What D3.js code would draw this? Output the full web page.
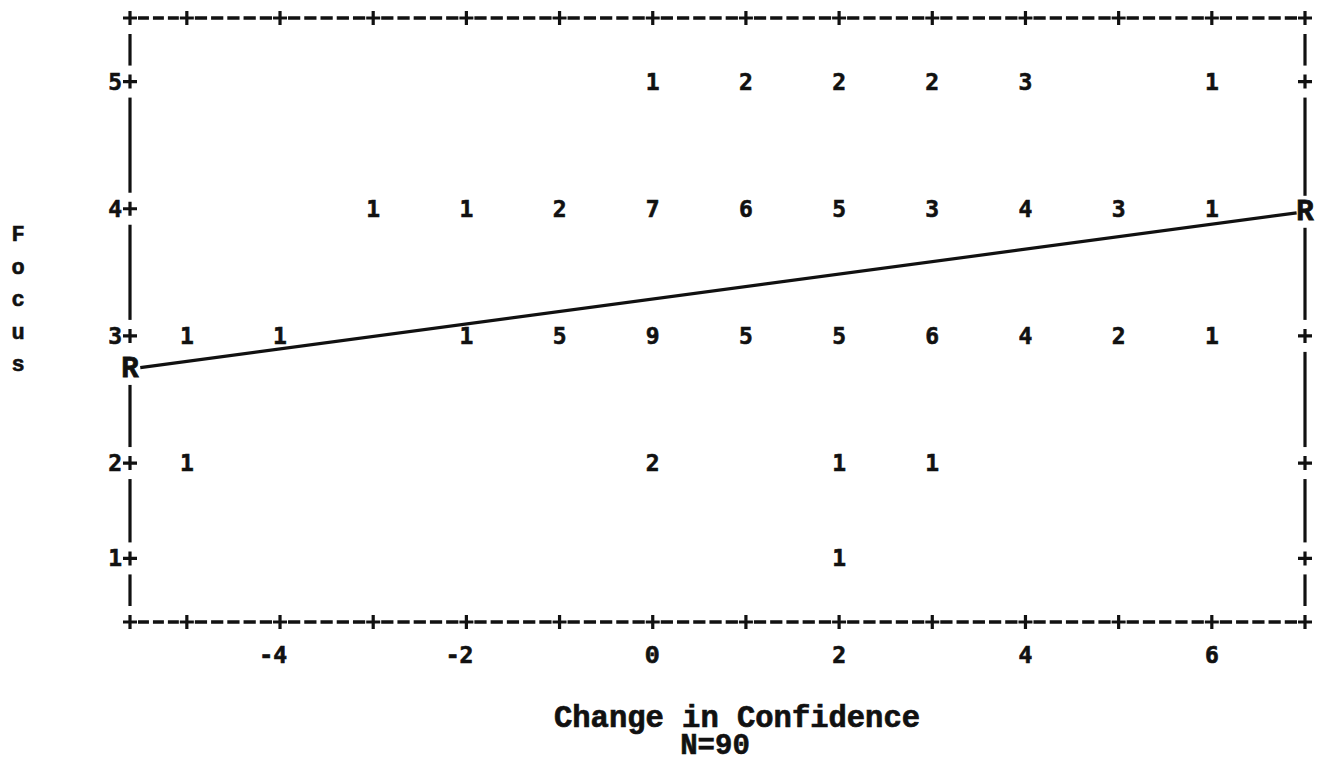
<!DOCTYPE html>
<html>
<head>
<meta charset="utf-8">
<script src="https://cdn.jsdelivr.net/npm/d3@7"></script>
<style>
  html, body { margin: 0; padding: 0; background: #fff; }
  svg { display: block; }
</style>
</head>
<body>
<svg id="chart" width="1324" height="763"></svg>
<script>
// Change in confidence (x) against focus rating (y); each cell shows how many cases fall there.
const changeValues = [-5, -4, -3, -2, -1, 0, 1, 2, 3, 4, 5, 6, 7];
const countsFocus5 = [0, 0, 0, 0, 0, 1, 2, 2, 2, 3, 0, 1, 0];
const countsFocus4 = [0, 0, 1, 1, 2, 7, 6, 5, 3, 4, 3, 1, 0];
const countsFocus3 = [1, 1, 0, 1, 5, 9, 5, 5, 6, 4, 2, 1, 0];
const countsFocus2 = [1, 0, 0, 0, 0, 2, 0, 1, 1, 0, 0, 0, 0];
const countsFocus1 = [0, 0, 0, 0, 0, 0, 0, 1, 0, 0, 0, 0, 0];
const focusLevels = [5, 4, 3, 2, 1];
const xTickLabels = [-4, -2, 0, 2, 4, 6];
const yTickLabels = [1, 2, 3, 4, 5];
// Least-squares fit line: focus = intercept + slope * change
const fitIntercept = 3.29;
const fitSlope = 0.098;
const sampleSize = 90;

(function () {
  const countsByFocus = { 5: countsFocus5, 4: countsFocus4, 3: countsFocus3, 2: countsFocus2, 1: countsFocus1 };

  const svg = d3.select("#chart");
  const ink = "#111";
  const monoSerif = "'Liberation Mono', 'Courier New', monospace";
  const monoSans = "'DejaVu Sans Mono', monospace";
  // DejaVu's zero is dotted; use a plain oval zero where one appears
  const digitFont = s => (String(s).indexOf("0") >= 0 ? monoSerif : monoSans);

  // Horizontal scale; the frame starts a little left of -5
  const xMin = -5.61, xMax = 7;
  const x = d3.scaleLinear().domain([xMin, xMax]).range([130, 1305]);

  // Printer-style line grid: the frame spans 20 text rows
  const row = d3.scaleLinear().domain([0, 19]).range([18, 622]);
  // Focus levels sit on fixed text rows (spacing is not perfectly uniform)
  const y = d3.scaleLinear().domain([1, 2, 3, 4, 5]).range([row(17), row(14), row(10), row(6), row(2)]);

  const frameTop = row(0), frameBottom = row(19), frameLeft = x(xMin), frameRight = x(xMax);

  const g = svg.append("g");

  // heavier printed look for glyphs
  function inked(sel, w) {
    return sel.attr("fill", ink).attr("stroke", ink).attr("stroke-width", w).attr("paint-order", "stroke");
  }

  // ---- dashed top and bottom borders with "+" ticks ----
  const hTickPos = [xMin].concat(d3.range(-5, 8));
  function dashedSpan(yy, a, b) {
    const x0 = x(a) + 8, x1 = x(b) - 8;
    const L = x1 - x0;
    const gap = 4;
    const n = Math.max(1, Math.round((L + gap) / 16));
    const dash = (L - gap * (n - 1)) / n;
    g.append("line")
      .attr("x1", x0).attr("x2", x1).attr("y1", yy).attr("y2", yy)
      .attr("stroke", ink).attr("stroke-width", 3.5)
      .attr("stroke-dasharray", `${dash},${gap}`);
  }
  [frameTop, frameBottom].forEach(yy => {
    for (let i = 0; i < hTickPos.length - 1; i++) dashedSpan(yy, hTickPos[i], hTickPos[i + 1]);
  });

  function cross(cx, cy) {
    g.append("path")
      .attr("d", `M${cx - 7},${cy}H${cx + 7}M${cx},${cy - 7}V${cy + 7}`)
      .attr("stroke", ink).attr("stroke-width", 3.2).attr("fill", "none");
  }
  [frameTop, frameBottom].forEach(yy => hTickPos.forEach(v => cross(x(v), yy)));

  // ---- vertical borders: solid runs broken around each glyph row ----
  const fitLeft = fitIntercept + fitSlope * xMin;
  const fitRight = fitIntercept + fitSlope * xMax;

  function verticalRuns(xx, glyphYs) {
    const ys = glyphYs.slice().sort((a, b) => a - b);
    for (let i = 0; i < ys.length - 1; i++) {
      const y0 = ys[i] + 16, y1 = ys[i + 1] - 16;
      if (y1 - y0 > 2) {
        g.append("line").attr("x1", xx).attr("x2", xx).attr("y1", y0).attr("y2", y1)
          .attr("stroke", ink).attr("stroke-width", 3.2);
      }
    }
  }
  const leftGlyphs = [frameTop, frameBottom].concat(yTickLabels.map(v => y(v)), [y(fitLeft)]);
  const rightGlyphs = [frameTop, frameBottom].concat(yTickLabels.filter(v => v !== 4).map(v => y(v)), [y(fitRight)]);
  verticalRuns(frameLeft, leftGlyphs);
  verticalRuns(frameRight, rightGlyphs);

  // "+" ticks on the sides
  yTickLabels.forEach(v => cross(frameLeft, y(v)));
  yTickLabels.filter(v => v !== 4).forEach(v => cross(frameRight, y(v)));

  // ---- y tick labels ----
  inked(g.selectAll("text.ytick").data(yTickLabels).enter().append("text")
    .attr("class", "ytick")
    .attr("x", frameLeft - 8).attr("y", d => y(d) + 8)
    .attr("text-anchor", "end")
    .attr("font-family", monoSans).attr("font-weight", "bold").attr("font-size", 23)
    .text(d => d), 0.6);

  // ---- x tick labels (last digit centred on the tick) ----
  inked(g.selectAll("text.xtick").data(xTickLabels).enter().append("text")
    .attr("class", "xtick")
    .attr("x", d => x(d) + 7).attr("y", 663)
    .attr("text-anchor", "end")
    .attr("font-family", d => digitFont(d)).attr("font-weight", "bold")
    .attr("font-size", d => (String(d).indexOf("0") >= 0 ? 25 : 23))
    .text(d => d < 0 ? "-" + Math.abs(d) : d), 0.7);

  // ---- fit line ----
  const line = d3.line().x(d => x(d)).y(d => y(fitIntercept + fitSlope * d));
  g.append("path")
    .datum([xMin + 0.11, xMax - 0.09])
    .attr("d", line)
    .attr("stroke", ink).attr("stroke-width", 3.2).attr("fill", "none");

  // ---- cell counts ----
  const cells = [];
  focusLevels.forEach(f => {
    countsByFocus[f].forEach((c, i) => {
      if (c > 0) cells.push({ change: changeValues[i], focus: f, count: c });
    });
  });
  inked(g.selectAll("text.count").data(cells).enter().append("text")
    .attr("class", "count")
    .attr("x", d => x(d.change)).attr("y", d => y(d.focus) + 8)
    .attr("text-anchor", "middle")
    .attr("font-family", d => digitFont(d.count)).attr("font-weight", "bold").attr("font-size", 23)
    .text(d => d.count), 0.6);

  // ---- "R" markers at both ends of the fit line ----
  inked(g.selectAll("text.rmark").data([[xMin, fitLeft], [xMax, fitRight]]).enter().append("text")
    .attr("class", "rmark")
    .attr("x", d => x(d[0])).attr("y", d => y(d[1]) + 8)
    .attr("text-anchor", "middle")
    .attr("font-family", monoSerif).attr("font-weight", "bold").attr("font-size", 29)
    .text("R"), 0.8);

  // ---- axis titles ----
  const yTitle = "Focus".split("");
  inked(g.selectAll("text.ytitle").data(yTitle).enter().append("text")
    .attr("class", "ytitle")
    .attr("x", 18).attr("y", (d, i) => 241 + i * 32.5)
    .attr("text-anchor", "middle")
    .attr("font-family", monoSerif).attr("font-weight", "bold").attr("font-size", 22)
    .text(d => d), 0.6);

  inked(g.append("text")
    .attr("x", 737).attr("y", 727)
    .attr("text-anchor", "middle")
    .attr("font-family", monoSerif).attr("font-weight", "bold").attr("font-size", 30.5)
    .text("Change in Confidence"), 0.7);

  inked(g.append("text")
    .attr("x", 715).attr("y", 754)
    .attr("text-anchor", "middle")
    .attr("font-family", monoSerif).attr("font-weight", "bold").attr("font-size", 29)
    .text("N=" + sampleSize), 0.6);
})();
</script>
</body>
</html>
